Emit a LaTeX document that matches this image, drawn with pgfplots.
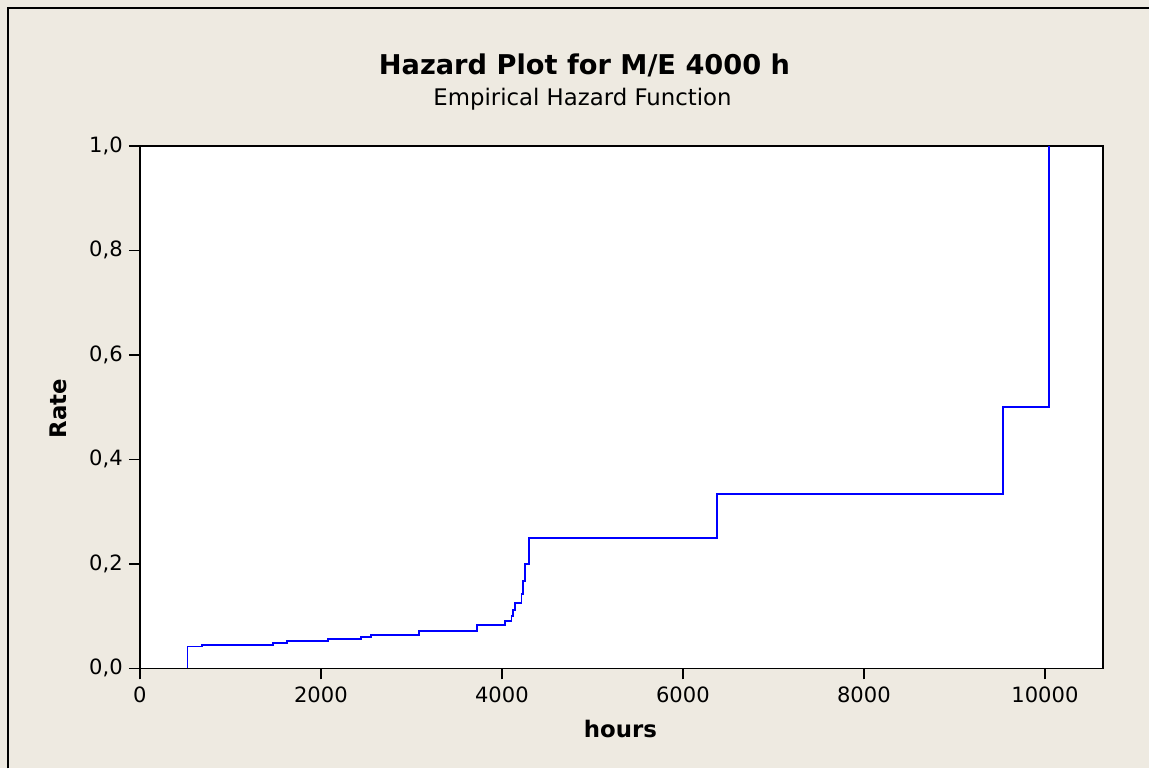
\documentclass[border=0pt]{standalone}
\usepackage{pgfplots}
\pgfplotsset{compat=1.18}
\usepackage{fontspec}
\setmainfont{DejaVu Sans}
\definecolor{panel}{HTML}{EEEAE1}
\definecolor{stepblue}{HTML}{0000FF}
% 1 px of the reference = 0.02 cm; origin at the top left corner, y downwards negative
\newcommand{\px}[2]{({#1*0.02cm},{-#2*0.02cm})}

\begin{document}
\begin{tikzpicture}
\fill[panel] \px{0}{0} rectangle \px{1150}{769};
\draw[line width=0.04cm] \px{8}{769} -- \px{8}{8} -- \px{1150}{8};

\begin{axis}[
  scale only axis,
  width=19.28cm, height=10.46cm,
  at={(2.8cm,-13.38cm)}, anchor=south west,
  xmin=0, xmax=10640, ymin=0, ymax=1,
  axis background/.style={fill=white},
  axis line style={line width=0.9pt},
  xtick={0,2000,4000,6000,8000,10000},
  ytick={0,0.2,0.4,0.6,0.8,1.0},
  scaled x ticks=false,
  tick align=outside, xtick pos=bottom, ytick pos=left,
  major tick length=0.22cm,
  tick style={black, line width=0.9pt},
  tick label style={font=\fontsize{12}{14}\selectfont},
  /pgf/number format/assume math mode=true,
  x tick label style={/pgf/number format/fixed, /pgf/number format/1000 sep={}, yshift=-1pt},
  y tick label style={/pgf/number format/use comma, /pgf/number format/fixed,
    /pgf/number format/fixed zerofill, /pgf/number format/precision=1},
]
\addplot[const plot, stepblue, line width=1pt] coordinates {
  (526,0) (526,0.0417) (684,0.0448) (1475,0.0485) (1630,0.0524)
  (2075,0.0562) (2447,0.0600) (2557,0.0638) (3087,0.0715) (3728,0.0835)
  (4036,0.0910) (4106,0.1000) (4125,0.1111) (4147,0.1250) (4216,0.1429)
  (4235,0.1667) (4257,0.2000) (4301,0.2500) (6380,0.3333) (9536,0.5000)
  (10044,1.0)
};
\end{axis}

\node[anchor=base, font=\fontsize{15.5}{18}\selectfont\bfseries] at \px{585}{75} {Hazard Plot for M/E 4000 h};
\node[anchor=base, font=\fontsize{13}{15}\selectfont] at \px{583}{106} {Empirical Hazard Function};
\node[anchor=base, font=\fontsize{13}{15}\selectfont\bfseries] at \px{621}{738} {hours};
\node[rotate=90, font=\fontsize{13}{15}\selectfont\bfseries] at \px{58}{409} {Rate};
\end{tikzpicture}
\end{document}
